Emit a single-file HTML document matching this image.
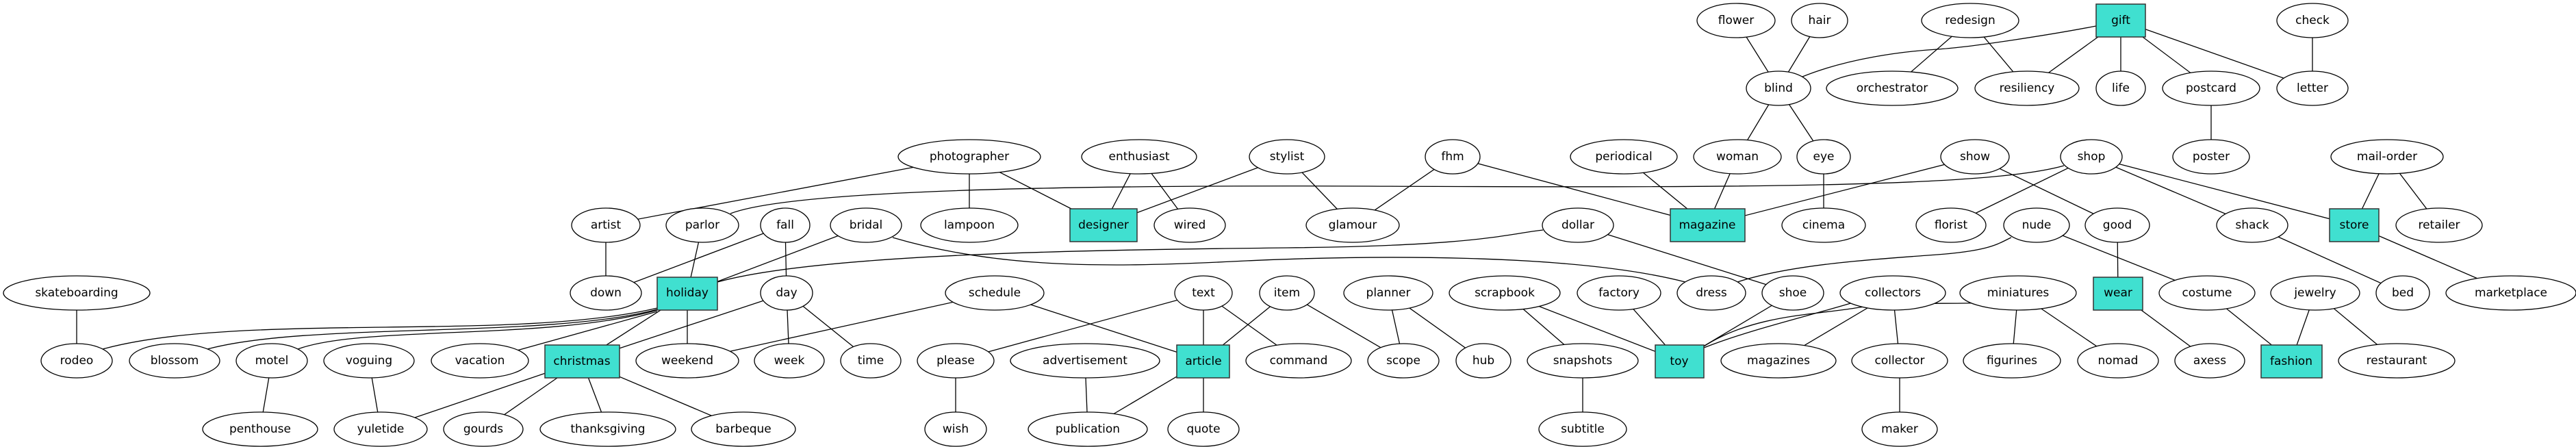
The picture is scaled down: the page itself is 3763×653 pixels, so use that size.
<!DOCTYPE html>
<html><head><meta charset="utf-8"><style>
html,body{margin:0;padding:0;background:#fff;}
svg{display:block;}
text{font-family:"DejaVu Sans","Liberation Sans",sans-serif;font-size:17px;text-anchor:middle;dominant-baseline:central;fill:#000;}
.e{fill:none;stroke:#000;stroke-width:1.3;}
ellipse{fill:#fff;stroke:#000;stroke-width:1.3;}
rect{fill:#40e0d0;stroke:#333;stroke-width:1.5;}
</style></head><body>
<svg width="3763" height="653" viewBox="0 0 3763 653" xmlns="http://www.w3.org/2000/svg">
<g class="e">
<line x1="885" y1="329" x2="1416" y2="229"/>
<line x1="885" y1="329" x2="885" y2="428"/>
<line x1="112" y1="428" x2="112" y2="527"/>
<path d="M960,450 C750,500 350,455 150,510"/>
<path d="M960,452 C800,495 450,470 303,510"/>
<path d="M960,453 C800,498 530,475 435,510"/>
<line x1="960" y1="455" x2="701" y2="527"/>
<line x1="1004" y1="428" x2="850" y2="527"/>
<line x1="1004" y1="428" x2="1004" y2="527"/>
<line x1="885" y1="428" x2="1147" y2="329"/>
<line x1="1004" y1="428" x2="1026" y2="329"/>
<line x1="1004" y1="428" x2="1265" y2="329"/>
<path d="M1048,412 C1200,370 1600,365 1880,362 S2200,342 2254,336"/>
<line x1="397" y1="527" x2="380" y2="627"/>
<line x1="539" y1="527" x2="556" y2="627"/>
<line x1="850" y1="527" x2="556" y2="627"/>
<line x1="850" y1="527" x2="706" y2="627"/>
<line x1="850" y1="527" x2="888" y2="627"/>
<line x1="850" y1="527" x2="1086" y2="627"/>
<line x1="850" y1="527" x2="1149" y2="428"/>
<line x1="1416" y1="229" x2="1416" y2="329"/>
<line x1="1416" y1="229" x2="1612" y2="329"/>
<path d="M1067,312 C1150,280 1500,270 2000,272 S2900,275 3015,242"/>
<line x1="1147" y1="329" x2="1149" y2="428"/>
<path d="M1304,347 C1450,390 1600,392 1800,382 S2300,370 2462,412"/>
<line x1="1664" y1="229" x2="1612" y2="329"/>
<line x1="1664" y1="229" x2="1738" y2="329"/>
<line x1="1880" y1="229" x2="1612" y2="329"/>
<line x1="1880" y1="229" x2="1976" y2="329"/>
<line x1="2122" y1="229" x2="1976" y2="329"/>
<line x1="2122" y1="229" x2="2494" y2="329"/>
<line x1="1149" y1="428" x2="1153" y2="527"/>
<line x1="1149" y1="428" x2="1272" y2="527"/>
<line x1="1453" y1="428" x2="1004" y2="527"/>
<line x1="1453" y1="428" x2="1758" y2="527"/>
<line x1="1758" y1="428" x2="1396" y2="527"/>
<line x1="1758" y1="428" x2="1758" y2="527"/>
<line x1="1758" y1="428" x2="1897" y2="527"/>
<line x1="1880" y1="428" x2="1758" y2="527"/>
<line x1="1880" y1="428" x2="2050" y2="527"/>
<line x1="1396" y1="527" x2="1396" y2="627"/>
<line x1="1585" y1="527" x2="1589" y2="627"/>
<line x1="1758" y1="527" x2="1589" y2="627"/>
<line x1="1758" y1="527" x2="1758" y2="627"/>
<line x1="2028" y1="428" x2="2050" y2="527"/>
<line x1="2028" y1="428" x2="2167" y2="527"/>
<line x1="2198" y1="428" x2="2312" y2="527"/>
<line x1="2198" y1="428" x2="2453" y2="527"/>
<line x1="2365" y1="428" x2="2453" y2="527"/>
<line x1="2305" y1="329" x2="2619" y2="428"/>
<line x1="2619" y1="428" x2="2453" y2="527"/>
<path d="M2489,506 C2560,460 2650,460 2710,450 S2850,445 2900,442"/>
<line x1="2765" y1="428" x2="2598" y2="527"/>
<line x1="2765" y1="428" x2="2775" y2="527"/>
<path d="M2489,508 C2560,480 2650,460 2720,438"/>
<path d="M2538,412 C2620,385 2750,378 2830,372 S2920,355 2938,347"/>
<line x1="2312" y1="527" x2="2312" y2="627"/>
<line x1="2775" y1="527" x2="2775" y2="627"/>
<line x1="2536" y1="30" x2="2598" y2="129"/>
<line x1="2658" y1="30" x2="2598" y2="129"/>
<line x1="2598" y1="129" x2="2538" y2="229"/>
<line x1="2598" y1="129" x2="2664" y2="229"/>
<path d="M2633,112 C2700,85 2780,75 2830,72 S3000,50 3062,38"/>
<line x1="2878" y1="30" x2="2764" y2="129"/>
<line x1="2878" y1="30" x2="2961" y2="129"/>
<line x1="2372" y1="229" x2="2494" y2="329"/>
<line x1="2538" y1="229" x2="2494" y2="329"/>
<line x1="2664" y1="229" x2="2664" y2="329"/>
<line x1="2494" y1="329" x2="2885" y2="229"/>
<line x1="3098" y1="30" x2="2961" y2="129"/>
<line x1="3098" y1="30" x2="3098" y2="129"/>
<line x1="3098" y1="30" x2="3230" y2="129"/>
<line x1="3098" y1="30" x2="3378" y2="129"/>
<line x1="3378" y1="30" x2="3378" y2="129"/>
<line x1="3230" y1="129" x2="3230" y2="229"/>
<line x1="2885" y1="229" x2="3093" y2="329"/>
<line x1="3055" y1="229" x2="2850" y2="329"/>
<line x1="3055" y1="229" x2="3290" y2="329"/>
<line x1="3055" y1="229" x2="3439" y2="329"/>
<line x1="3487" y1="229" x2="3439" y2="329"/>
<line x1="3487" y1="229" x2="3563" y2="329"/>
<line x1="2975" y1="329" x2="3224" y2="428"/>
<line x1="3093" y1="329" x2="3094" y2="428"/>
<line x1="3094" y1="428" x2="3228" y2="527"/>
<line x1="3290" y1="329" x2="3510" y2="428"/>
<line x1="3439" y1="329" x2="3668" y2="428"/>
<line x1="2948" y1="428" x2="2939" y2="527"/>
<line x1="2948" y1="428" x2="3094" y2="527"/>
<line x1="3224" y1="428" x2="3347" y2="527"/>
<line x1="3382" y1="428" x2="3347" y2="527"/>
<line x1="3382" y1="428" x2="3501" y2="527"/>
</g>
<g>
<ellipse cx="2536" cy="30" rx="57" ry="25"/><text x="2536" y="30">flower</text>
<ellipse cx="2658" cy="30" rx="41" ry="25"/><text x="2658" y="30">hair</text>
<ellipse cx="2878" cy="30" rx="71" ry="25"/><text x="2878" y="30">redesign</text>
<rect x="3062" y="6" width="72" height="48"/><text x="3098" y="30">gift</text>
<ellipse cx="3378" cy="30" rx="52" ry="25"/><text x="3378" y="30">check</text>

<ellipse cx="2598" cy="129" rx="47" ry="25"/><text x="2598" y="129">blind</text>
<ellipse cx="2764" cy="129" rx="96" ry="25"/><text x="2764" y="129">orchestrator</text>
<ellipse cx="2961" cy="129" rx="76" ry="25"/><text x="2961" y="129">resiliency</text>
<ellipse cx="3098" cy="129" rx="36" ry="25"/><text x="3098" y="129">life</text>
<ellipse cx="3230" cy="129" rx="71" ry="25"/><text x="3230" y="129">postcard</text>
<ellipse cx="3378" cy="129" rx="52" ry="25"/><text x="3378" y="129">letter</text>

<ellipse cx="1416" cy="229" rx="104" ry="25"/><text x="1416" y="229">photographer</text>
<ellipse cx="1664" cy="229" rx="84" ry="25"/><text x="1664" y="229">enthusiast</text>
<ellipse cx="1880" cy="229" rx="55" ry="25"/><text x="1880" y="229">stylist</text>
<ellipse cx="2122" cy="229" rx="40" ry="25"/><text x="2122" y="229">fhm</text>
<ellipse cx="2372" cy="229" rx="78" ry="25"/><text x="2372" y="229">periodical</text>
<ellipse cx="2538" cy="229" rx="64" ry="25"/><text x="2538" y="229">woman</text>
<ellipse cx="2664" cy="229" rx="39" ry="25"/><text x="2664" y="229">eye</text>
<ellipse cx="2885" cy="229" rx="50" ry="25"/><text x="2885" y="229">show</text>
<ellipse cx="3055" cy="229" rx="45" ry="25"/><text x="3055" y="229">shop</text>
<ellipse cx="3230" cy="229" rx="56" ry="25"/><text x="3230" y="229">poster</text>
<ellipse cx="3487" cy="229" rx="82" ry="25"/><text x="3487" y="229">mail-order</text>

<ellipse cx="885" cy="329" rx="50" ry="25"/><text x="885" y="329">artist</text>
<ellipse cx="1026" cy="329" rx="53" ry="25"/><text x="1026" y="329">parlor</text>
<ellipse cx="1147" cy="329" rx="36" ry="25"/><text x="1147" y="329">fall</text>
<ellipse cx="1265" cy="329" rx="52" ry="25"/><text x="1265" y="329">bridal</text>
<ellipse cx="1416" cy="329" rx="71" ry="25"/><text x="1416" y="329">lampoon</text>
<rect x="1563" y="305" width="98" height="48"/><text x="1612" y="329">designer</text>
<ellipse cx="1738" cy="329" rx="52" ry="25"/><text x="1738" y="329">wired</text>
<ellipse cx="1976" cy="329" rx="68" ry="25"/><text x="1976" y="329">glamour</text>
<ellipse cx="2305" cy="329" rx="52" ry="25"/><text x="2305" y="329">dollar</text>
<rect x="2440" y="305" width="109" height="48"/><text x="2494" y="329">magazine</text>
<ellipse cx="2664" cy="329" rx="61" ry="25"/><text x="2664" y="329">cinema</text>
<ellipse cx="2850" cy="329" rx="51" ry="25"/><text x="2850" y="329">florist</text>
<ellipse cx="2975" cy="329" rx="48" ry="25"/><text x="2975" y="329">nude</text>
<ellipse cx="3093" cy="329" rx="47" ry="25"/><text x="3093" y="329">good</text>
<ellipse cx="3290" cy="329" rx="52" ry="25"/><text x="3290" y="329">shack</text>
<rect x="3403" y="305" width="72" height="48"/><text x="3439" y="329">store</text>
<ellipse cx="3563" cy="329" rx="63" ry="25"/><text x="3563" y="329">retailer</text>

<ellipse cx="112" cy="428" rx="107" ry="25"/><text x="112" y="428">skateboarding</text>
<ellipse cx="885" cy="428" rx="52" ry="25"/><text x="885" y="428">down</text>
<rect x="960" y="405" width="88" height="48"/><text x="1004" y="428">holiday</text>
<ellipse cx="1149" cy="428" rx="38" ry="25"/><text x="1149" y="428">day</text>
<ellipse cx="1453" cy="428" rx="72" ry="25"/><text x="1453" y="428">schedule</text>
<ellipse cx="1758" cy="428" rx="42" ry="25"/><text x="1758" y="428">text</text>
<ellipse cx="1880" cy="428" rx="40" ry="25"/><text x="1880" y="428">item</text>
<ellipse cx="2028" cy="428" rx="65" ry="25"/><text x="2028" y="428">planner</text>
<ellipse cx="2198" cy="428" rx="81" ry="25"/><text x="2198" y="428">scrapbook</text>
<ellipse cx="2365" cy="428" rx="61" ry="25"/><text x="2365" y="428">factory</text>
<ellipse cx="2500" cy="428" rx="50" ry="25"/><text x="2500" y="428">dress</text>
<ellipse cx="2619" cy="428" rx="45" ry="25"/><text x="2619" y="428">shoe</text>
<ellipse cx="2765" cy="428" rx="77" ry="25"/><text x="2765" y="428">collectors</text>
<ellipse cx="2948" cy="428" rx="85" ry="25"/><text x="2948" y="428">miniatures</text>
<rect x="3058" y="405" width="72" height="48"/><text x="3094" y="428">wear</text>
<ellipse cx="3224" cy="428" rx="70" ry="25"/><text x="3224" y="428">costume</text>
<ellipse cx="3382" cy="428" rx="65" ry="25"/><text x="3382" y="428">jewelry</text>
<ellipse cx="3510" cy="428" rx="39" ry="25"/><text x="3510" y="428">bed</text>
<ellipse cx="3668" cy="428" rx="95" ry="25"/><text x="3668" y="428">marketplace</text>

<ellipse cx="112" cy="527" rx="52" ry="25"/><text x="112" y="527">rodeo</text>
<ellipse cx="255" cy="527" rx="66" ry="25"/><text x="255" y="527">blossom</text>
<ellipse cx="397" cy="527" rx="52" ry="25"/><text x="397" y="527">motel</text>
<ellipse cx="539" cy="527" rx="66" ry="25"/><text x="539" y="527">voguing</text>
<ellipse cx="701" cy="527" rx="71" ry="25"/><text x="701" y="527">vacation</text>
<rect x="796" y="504" width="109" height="48"/><text x="850" y="528">christmas</text>
<ellipse cx="1004" cy="527" rx="75" ry="25"/><text x="1004" y="527">weekend</text>
<ellipse cx="1153" cy="527" rx="51" ry="25"/><text x="1153" y="527">week</text>
<ellipse cx="1272" cy="527" rx="44" ry="25"/><text x="1272" y="527">time</text>
<ellipse cx="1396" cy="527" rx="56" ry="25"/><text x="1396" y="527">please</text>
<ellipse cx="1585" cy="527" rx="109" ry="25"/><text x="1585" y="527">advertisement</text>
<rect x="1719" y="504" width="77" height="48"/><text x="1758" y="528">article</text>
<ellipse cx="1897" cy="527" rx="77" ry="25"/><text x="1897" y="527">command</text>
<ellipse cx="2050" cy="527" rx="52" ry="25"/><text x="2050" y="527">scope</text>
<ellipse cx="2167" cy="527" rx="40" ry="25"/><text x="2167" y="527">hub</text>
<ellipse cx="2312" cy="527" rx="81" ry="25"/><text x="2312" y="527">snapshots</text>
<rect x="2418" y="504" width="71" height="48"/><text x="2453" y="528">toy</text>
<ellipse cx="2598" cy="527" rx="84" ry="25"/><text x="2598" y="527">magazines</text>
<ellipse cx="2775" cy="527" rx="70" ry="25"/><text x="2775" y="527">collector</text>
<ellipse cx="2939" cy="527" rx="71" ry="25"/><text x="2939" y="527">figurines</text>
<ellipse cx="3094" cy="527" rx="59" ry="25"/><text x="3094" y="527">nomad</text>
<ellipse cx="3228" cy="527" rx="51" ry="25"/><text x="3228" y="527">axess</text>
<rect x="3303" y="504" width="89" height="48"/><text x="3347" y="528">fashion</text>
<ellipse cx="3501" cy="527" rx="85" ry="25"/><text x="3501" y="527">restaurant</text>

<ellipse cx="380" cy="627" rx="84" ry="25"/><text x="380" y="627">penthouse</text>
<ellipse cx="556" cy="627" rx="68" ry="25"/><text x="556" y="627">yuletide</text>
<ellipse cx="706" cy="627" rx="58" ry="25"/><text x="706" y="627">gourds</text>
<ellipse cx="888" cy="627" rx="99" ry="25"/><text x="888" y="627">thanksgiving</text>
<ellipse cx="1086" cy="627" rx="76" ry="25"/><text x="1086" y="627">barbeque</text>
<ellipse cx="1396" cy="627" rx="45" ry="25"/><text x="1396" y="627">wish</text>
<ellipse cx="1589" cy="627" rx="87" ry="25"/><text x="1589" y="627">publication</text>
<ellipse cx="1758" cy="627" rx="52" ry="25"/><text x="1758" y="627">quote</text>
<ellipse cx="2312" cy="627" rx="64" ry="25"/><text x="2312" y="627">subtitle</text>
<ellipse cx="2775" cy="627" rx="55" ry="25"/><text x="2775" y="627">maker</text>
</g>
</svg>
</body></html>
